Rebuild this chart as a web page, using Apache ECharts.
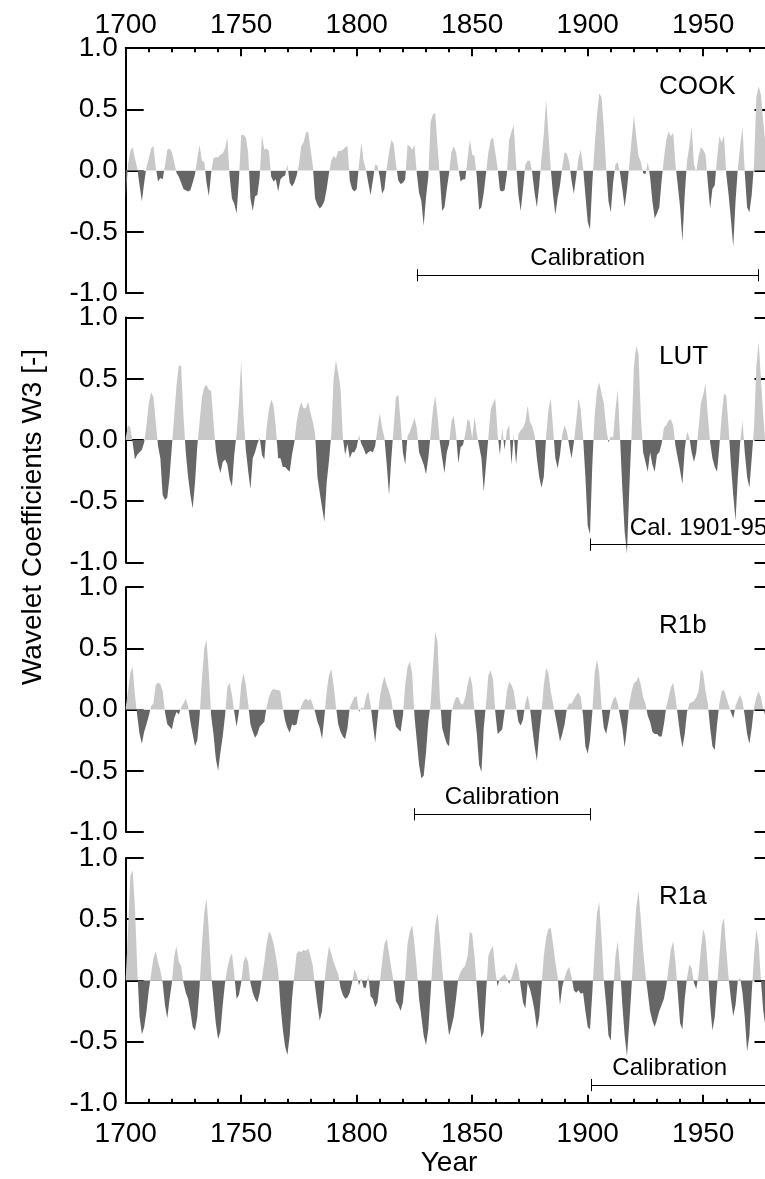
<!DOCTYPE html>
<html>
<head>
<meta charset="utf-8">
<script src="https://cdn.jsdelivr.net/npm/echarts@6/dist/echarts.min.js"></script>
<style>
html,body{margin:0;padding:0;overflow:hidden;background:#fff;}
#main{width:780px;height:1179px;}
</style>
</head>
<body>
<div id="main"></div>
<script>
// ---------- data ----------
const startYear = 1700;
const panelNames = ['COOK', 'LUT', 'R1b', 'R1a'];
const xTickLabels = [1700, 1750, 1800, 1850, 1900, 1950];
const yTickLabels = [-1.0, -0.5, 0.0, 0.5, 1.0];

const cook = [
-0.23,0.05,0.16,0.19,0.10,0.02,-0.12,-0.25,-0.10,0.03,
0.10,0.18,0.20,0.03,-0.09,-0.06,-0.07,0.04,0.17,0.18,
0.15,0.07,-0.02,-0.05,-0.10,-0.15,-0.16,-0.17,-0.16,-0.10,
-0.03,0.10,0.21,0.08,0.07,-0.10,-0.21,-0.02,0.10,0.11,
0.11,0.13,0.14,0.18,0.27,-0.05,-0.23,-0.27,-0.35,-0.08,
0.29,0.29,0.27,0.15,-0.23,-0.33,-0.21,-0.20,-0.05,0.29,
0.17,0.18,0.16,-0.05,-0.09,-0.07,-0.17,-0.07,-0.05,-0.04,
0.05,-0.10,-0.13,-0.10,-0.04,0.05,0.20,0.23,0.31,0.32,
0.18,0.04,-0.23,-0.28,-0.31,-0.29,-0.25,-0.15,-0.02,0.08,
0.12,0.10,0.16,0.16,0.17,0.19,0.20,-0.08,-0.15,-0.17,
-0.15,0.05,0.23,0.08,0.01,-0.10,-0.20,-0.08,0.05,0.04,
-0.05,-0.19,-0.15,0.02,0.15,0.25,0.22,0.05,-0.08,-0.11,
-0.10,-0.07,0.21,0.20,0.17,0.21,-0.02,-0.18,-0.25,-0.45,
-0.22,-0.05,0.40,0.46,0.47,0.20,-0.05,-0.33,-0.30,-0.15,
-0.02,0.15,0.20,0.15,0.02,-0.09,-0.07,-0.07,0.10,0.25,
0.13,0.12,-0.05,-0.32,-0.30,-0.18,-0.02,0.15,0.25,0.27,
0.15,0.02,-0.16,-0.17,-0.16,-0.03,0.25,0.32,0.37,0.05,
-0.20,-0.33,-0.15,0.05,0.08,0.08,-0.02,-0.18,-0.30,-0.12,
0.10,0.30,0.58,0.30,0.02,-0.20,-0.36,-0.22,-0.12,0.03,
0.15,0.14,0.07,-0.08,-0.19,-0.05,0.10,0.17,0.03,-0.20,
-0.42,-0.48,-0.10,0.20,0.45,0.63,0.60,0.35,0.02,-0.25,
-0.34,-0.10,0.05,0.07,-0.02,-0.15,-0.30,-0.15,0.05,0.25,
0.45,0.28,0.12,0.07,-0.02,-0.03,0.07,-0.05,-0.25,-0.39,
-0.35,-0.30,-0.08,0.10,0.25,0.32,0.28,0.31,0.05,-0.12,
-0.30,-0.58,-0.20,0.08,0.20,0.36,0.05,-0.01,0.12,0.19,
0.17,0.13,-0.10,-0.31,-0.15,-0.12,0.10,0.28,0.23,0.29,
-0.03,-0.20,-0.40,-0.62,-0.25,0.02,0.20,0.36,-0.02,-0.30,
-0.34,-0.20,0.05,0.60,0.69,0.62,0.40,0.20,0.05,-0.05
];

const lut = [
0.02,0.12,0.10,-0.02,-0.16,-0.12,-0.10,-0.08,-0.02,0.12,
0.30,0.39,0.35,0.15,-0.05,-0.15,-0.45,-0.49,-0.47,-0.30,
-0.05,0.20,0.45,0.61,0.60,0.20,-0.10,-0.30,-0.45,-0.56,
-0.35,-0.05,0.15,0.35,0.43,0.45,0.41,0.40,0.15,-0.08,
-0.20,-0.27,-0.18,-0.16,-0.20,-0.32,-0.38,-0.12,0.05,0.30,
0.65,0.20,-0.08,-0.25,-0.40,-0.15,-0.10,-0.03,0.02,-0.12,
-0.16,0.10,0.25,0.33,0.28,0.10,-0.15,-0.15,-0.22,-0.22,
-0.24,-0.26,-0.12,-0.02,0.15,0.25,0.31,0.26,0.26,0.31,
0.22,0.15,0.05,-0.30,-0.43,-0.55,-0.67,-0.35,-0.17,0.05,
0.50,0.65,0.55,0.42,0.02,-0.12,-0.03,-0.15,-0.10,-0.10,
-0.06,0.04,-0.03,-0.07,-0.12,-0.10,-0.09,-0.10,-0.05,0.10,
0.22,0.10,0.02,-0.20,-0.45,-0.15,0.10,0.35,0.37,0.15,
-0.10,-0.20,0.03,0.07,0.12,0.18,0.10,-0.10,-0.15,-0.20,
-0.28,-0.15,0.05,0.25,0.36,0.20,-0.02,-0.15,-0.27,-0.10,
-0.03,0.15,0.20,0.05,-0.19,-0.06,-0.04,0.05,0.17,0.15,
0.01,0.19,0.05,-0.05,-0.15,-0.42,-0.20,0.02,0.25,0.30,
0.34,0.05,-0.12,0.10,-0.08,0.08,0.12,-0.20,0.05,-0.20,
0.05,0.08,0.10,0.15,0.28,0.15,0.11,0.04,-0.15,-0.30,
-0.39,-0.30,0.03,0.25,0.34,0.10,-0.15,-0.23,-0.12,0.05,
0.12,0.07,-0.05,-0.15,-0.02,0.15,0.34,0.25,0.02,-0.30,
-0.70,-0.77,-0.20,0.20,0.40,0.47,0.38,0.30,0.10,-0.02,
0.03,0.02,0.25,0.41,0.02,-0.40,-0.75,-0.93,-0.40,0.05,
0.60,0.77,0.70,0.20,-0.10,-0.18,-0.26,-0.10,-0.20,-0.26,
-0.12,-0.10,-0.03,0.10,0.12,0.16,0.17,0.12,-0.05,-0.15,
-0.25,-0.36,-0.08,0.07,0.02,-0.10,-0.18,-0.10,0.10,0.30,
0.37,0.46,0.20,-0.02,-0.15,-0.22,-0.26,-0.05,0.20,0.38,
0.36,0.10,-0.20,-0.45,-0.66,-0.30,-0.02,0.16,-0.10,-0.30,
-0.39,-0.15,0.10,0.60,0.80,0.50,0.20,-0.05,-0.15,-0.10
];

const r1b = [
0.02,0.15,0.30,0.35,0.12,-0.05,-0.20,-0.28,-0.18,-0.12,
-0.05,0.03,0.05,0.20,0.22,0.21,0.15,-0.02,-0.12,-0.14,
-0.16,-0.07,-0.02,-0.04,0.02,0.05,0.09,0.03,-0.10,-0.20,
-0.30,-0.25,-0.05,0.25,0.50,0.57,0.30,-0.05,-0.20,-0.40,
-0.50,-0.35,-0.22,-0.05,0.18,0.22,0.12,-0.02,-0.14,-0.02,
0.20,0.30,0.20,0.05,-0.12,-0.18,-0.23,-0.20,-0.14,-0.12,
-0.10,0.02,0.10,0.15,0.17,0.16,0.16,0.15,0.02,-0.09,
-0.15,-0.19,-0.12,-0.13,-0.12,-0.02,0.03,0.07,0.09,0.07,
0.09,0.04,-0.02,-0.10,-0.15,-0.24,-0.06,0.15,0.28,0.33,
0.20,0.03,-0.12,-0.18,-0.22,-0.24,-0.15,0.02,0.06,0.10,
0.11,-0.02,0.02,0.01,0.10,0.15,0.04,-0.12,-0.27,-0.08,
0.10,0.20,0.27,0.20,0.15,0.08,-0.05,-0.14,-0.16,-0.18,
-0.05,0.20,0.35,0.39,0.30,-0.05,-0.25,-0.45,-0.56,-0.54,
-0.35,-0.10,0.05,0.35,0.64,0.55,0.10,-0.15,-0.22,-0.28,
-0.30,-0.02,0.05,0.10,0.10,0.05,0.04,0.10,0.20,0.28,
0.20,-0.02,-0.20,-0.45,-0.51,-0.15,0.05,0.28,0.32,0.25,
-0.02,-0.20,-0.18,-0.16,-0.02,0.15,0.23,0.20,0.15,0.02,
-0.10,-0.13,-0.08,0.05,0.12,0.02,-0.15,-0.30,-0.42,-0.20,
-0.02,0.20,0.34,0.30,0.15,0.05,-0.05,-0.15,-0.26,-0.20,
-0.12,0.01,0.05,0.05,0.08,0.12,0.14,0.10,-0.05,-0.30,
-0.36,-0.25,-0.02,0.30,0.41,0.30,0.02,-0.15,-0.20,-0.10,
0.02,0.08,0.11,0.05,-0.05,-0.15,-0.31,-0.15,0.05,0.15,
0.22,0.23,0.27,0.20,0.10,0.05,-0.05,-0.10,-0.18,-0.20,
-0.20,-0.22,-0.22,-0.12,0.02,0.10,0.18,0.22,0.10,-0.05,
-0.20,-0.31,-0.20,-0.02,0.05,0.06,0.07,0.10,0.15,0.33,
0.30,0.15,0.05,-0.15,-0.30,-0.33,-0.12,0.05,0.15,0.16,
0.10,0.04,-0.02,-0.07,0.03,0.08,0.12,0.07,-0.05,-0.20,
-0.28,-0.15,0.02,0.10,0.15,0.10,0.00,-0.05,-0.10,-0.05
];

const r1a = [
0.02,0.40,0.85,0.90,0.60,0.10,-0.30,-0.44,-0.38,-0.25,
-0.08,0.05,0.18,0.24,0.15,0.08,-0.02,-0.20,-0.31,-0.15,
-0.02,0.20,0.28,0.15,0.12,-0.02,-0.10,-0.15,-0.25,-0.38,
-0.41,-0.30,-0.05,0.30,0.55,0.67,0.40,0.05,-0.15,-0.35,
-0.48,-0.42,-0.20,-0.02,0.10,0.18,0.22,0.05,-0.15,-0.12,
-0.02,0.15,0.20,0.15,-0.02,-0.10,-0.15,-0.18,-0.10,0.02,
0.15,0.30,0.40,0.37,0.30,0.20,0.08,-0.20,-0.40,-0.54,
-0.61,-0.45,-0.15,0.05,0.22,0.24,0.23,0.25,0.24,0.26,
0.20,0.12,-0.05,-0.20,-0.33,-0.25,-0.02,0.15,0.28,0.22,
0.15,0.10,0.05,-0.06,-0.12,-0.15,-0.14,-0.10,-0.02,0.09,
0.05,-0.04,0.02,-0.06,-0.06,0.05,-0.13,-0.15,-0.22,-0.18,
-0.02,0.15,0.30,0.34,0.22,0.10,-0.02,-0.17,-0.20,-0.25,
-0.18,0.02,0.30,0.40,0.45,0.30,0.10,-0.15,-0.30,-0.45,
-0.53,-0.40,-0.10,0.20,0.45,0.55,0.35,0.10,-0.10,-0.30,
-0.45,-0.38,-0.30,-0.15,0.02,0.07,0.10,0.12,0.20,0.40,
0.38,0.20,-0.05,-0.30,-0.47,-0.42,-0.10,0.20,0.25,0.28,
0.08,-0.05,0.02,0.03,0.05,0.02,-0.03,0.02,0.08,0.15,
0.08,-0.05,-0.18,-0.23,-0.02,-0.07,-0.15,-0.25,-0.40,-0.30,
-0.05,0.20,0.35,0.42,0.43,0.30,0.15,0.03,-0.20,-0.05,
0.02,0.08,0.11,0.03,-0.08,-0.10,-0.08,-0.11,-0.10,-0.25,
-0.38,-0.40,-0.10,0.25,0.55,0.64,0.35,0.00,-0.20,-0.45,
-0.49,-0.10,0.20,0.32,0.10,-0.20,-0.45,-0.62,-0.35,-0.05,
0.30,0.60,0.73,0.50,0.25,0.05,-0.10,-0.25,-0.33,-0.38,
-0.32,-0.25,-0.20,-0.15,-0.05,0.10,0.25,0.32,0.15,-0.10,
-0.35,-0.40,-0.15,0.02,0.13,0.10,-0.02,-0.07,0.05,0.25,
0.42,0.35,0.10,-0.20,-0.41,-0.30,-0.05,0.20,0.45,0.51,
0.25,0.02,-0.15,-0.29,-0.20,0.00,0.02,-0.10,-0.30,-0.58,
-0.45,-0.10,0.20,0.42,0.30,0.00,-0.25,-0.38,-0.30,-0.20
];

// calibration periods per panel
const calStart = [1826, 1901, 1825, 1901.5];
const calEnd = [1974, 1980, 1901, 1980];
const calLabel = ['Calibration', 'Cal. 1901-95', 'Calibration', 'Calibration'];
const calLabelYear = [1900, 1948, 1863, 1935.5];
const calBarValue = -0.855;
const calLabelValue = -0.72;

// ---------- layout ----------
const FONT = 'Liberation Sans, Arial, Helvetica, sans-serif';
const LIGHT = '#c8c8c8';
const DARK = '#666666';
const gridLeft = 125.7, gridWidth = 646.8;
const gridTops = [48.2, 317.6, 587.2, 858.0];
const gridHeight = 244.8;
const series = [cook, lut, r1b, r1a];

const chart = echarts.init(document.getElementById('main'), null, {renderer: 'canvas'});

const grids = gridTops.map(t => ({left: gridLeft, width: gridWidth, top: t, height: gridHeight}));

function majorX(gi, pos, showLabel, margin) {
  return {
    type: 'value', gridIndex: gi, position: pos, min: 1700, max: 1980, interval: 50,
    axisLine: {show: true, onZero: false, lineStyle: {color: '#000', width: 2}},
    axisTick: {show: true, inside: true, length: 8, lineStyle: {color: '#000', width: 2}},
    axisLabel: {show: showLabel, showMaxLabel: false, margin: margin, fontSize: 28, color: '#000', fontFamily: FONT,
      formatter: v => (xTickLabels.indexOf(v) >= 0 ? String(v) : '')},
    splitLine: {show: false}
  };
}
function minorX(gi, pos) {
  return {
    type: 'value', gridIndex: gi, position: pos, min: 1700, max: 1980, interval: 10,
    axisLine: {show: false, onZero: false},
    axisTick: {show: true, inside: true, length: 4, lineStyle: {color: '#000', width: 2}},
    axisLabel: {show: false},
    splitLine: {show: false}
  };
}
function hiddenX(gi) {
  return {type: 'value', gridIndex: gi, min: 1700, max: 1980, show: false, splitLine: {show: false}};
}

const xAxes = [
  majorX(0, 'top', true, 9), minorX(0, 'top'),
  hiddenX(1), hiddenX(2),
  majorX(3, 'bottom', true, 17), minorX(3, 'bottom')
];
const xIdx = [0, 2, 3, 4];

const yAxes = [];
for (let i = 0; i < 4; i++) {
  yAxes.push({
    type: 'value', gridIndex: i, position: 'left', min: -1, max: 1, interval: 0.5,
    axisLine: {show: true, onZero: false, lineStyle: {color: '#000', width: 2}},
    axisTick: {show: true, inside: true, length: 18, lineStyle: {color: '#000', width: 2}},
    axisLabel: {show: true, margin: 8, fontSize: 28, color: '#000', fontFamily: FONT,
      formatter: v => yTickLabels.indexOf(v) >= 0 ? v.toFixed(1) : ''},
    splitLine: {show: false}
  });
  yAxes.push({
    type: 'value', gridIndex: i, position: 'right', min: -1, max: 1, interval: 0.5,
    axisLine: {show: true, onZero: false, lineStyle: {color: '#000', width: 2}},
    axisTick: {show: true, inside: true, length: 18, lineStyle: {color: '#000', width: 2}},
    axisLabel: {show: false},
    splitLine: {show: false}
  });
}

const seriesOpts = series.map((vals, i) => {
  const d = vals.map((v, k) => [startYear + k, v]);
  const y = calBarValue, c = 0.05;
  return {
    type: 'line', name: panelNames[i], xAxisIndex: xIdx[i], yAxisIndex: i * 2,
    data: d, showSymbol: false, symbol: 'none',
    lineStyle: {width: 0},
    areaStyle: {opacity: 1, origin: 0},
    silent: true, animation: false,
    markLine: {
      silent: true, symbol: ['none', 'none'], animation: false,
      label: {show: false},
      lineStyle: {color: '#000', width: 1, type: 'solid'},
      data: [
        [{coord: [calStart[i], y]}, {coord: [calEnd[i], y]}],
        [{coord: [calStart[i], y - c]}, {coord: [calStart[i], y + c]}],
        [{coord: [calEnd[i], y - c]}, {coord: [calEnd[i], y + c]}]
      ]
    },
    markPoint: {
      silent: true, animation: false, symbol: 'rect', symbolSize: 1,
      itemStyle: {color: 'rgba(0,0,0,0)'},
      label: {show: true, position: 'inside', formatter: '{b}', fontSize: 24, color: '#000', fontFamily: FONT},
      data: [{name: calLabel[i], coord: [calLabelYear[i], calLabelValue]}]
    }
  };
});

const visualMaps = series.map((_, i) => ({
  type: 'piecewise', show: false, seriesIndex: i, dimension: 1,
  pieces: [{gte: -5, lt: 0, color: DARK}, {gte: 0, lte: 5, color: LIGHT}],
  outOfRange: {color: DARK}
}));

const graphics = [
  {type: 'text', x: 33, y: 517, rotation: Math.PI / 2,
   style: {text: 'Wavelet Coefficients W3 [-]', fontSize: 28, fontFamily: FONT, fill: '#000',
     align: 'center', verticalAlign: 'middle', textAlign: 'center', textVerticalAlign: 'middle'}},
  {type: 'text', x: 449, y: 1163,
   style: {text: 'Year', fontSize: 28, fontFamily: FONT, fill: '#000',
     align: 'center', verticalAlign: 'middle', textAlign: 'center', textVerticalAlign: 'middle'}}
];
panelNames.forEach((n, i) => {
  graphics.push({type: 'text', x: 659, y: gridTops[i] + 39,
    style: {text: n, fontSize: 26, fontFamily: FONT, fill: '#000',
      align: 'left', verticalAlign: 'middle', textAlign: 'left', textVerticalAlign: 'middle'}});
});

chart.setOption({
  animation: false,
  backgroundColor: '#fff',
  grid: grids,
  xAxis: xAxes,
  yAxis: yAxes,
  visualMap: visualMaps,
  series: seriesOpts,
  graphic: graphics
});
</script>
</body>
</html>
